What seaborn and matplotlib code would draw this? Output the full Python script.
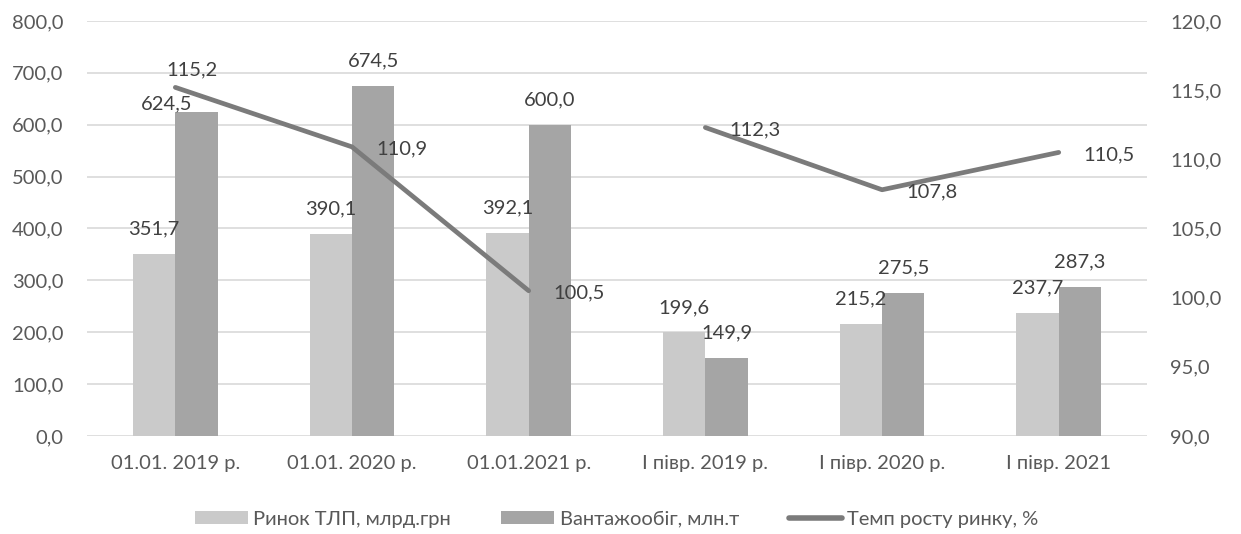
import matplotlib
matplotlib.use("Agg")
import matplotlib.pyplot as plt
import seaborn as sns
import pandas as pd
import numpy as np
from matplotlib.patches import Patch
from matplotlib.lines import Line2D

# ---- data ----
categories = ["01.01. 2019 р.", "01.01. 2020 р.", "01.01.2021 р.",
              "І півр. 2019 р.", "І півр. 2020 р.", "І півр. 2021"]
market = [351.7, 390.1, 392.1, 199.6, 215.2, 237.7]
cargo = [624.5, 674.5, 600.0, 149.9, 275.5, 287.3]
growth = [115.2, 110.9, 100.5, 112.3, 107.8, 110.5]
period = ["year", "year", "year", "half", "half", "half"]
series_names = ["Ринок ТЛП, млрд.грн", "Вантажообіг, млн.т", "Темп росту ринку, %"]
left_ticks = list(range(0, 801, 100))
right_ticks = list(range(90, 121, 5))

# ---- style ----
sns.set_theme(style="white")
FONT = ["Lato", "DejaVu Sans"]
plt.rcParams["font.family"] = FONT
FS = 14.5
TICK_C = "#595959"
LBL_C = "#404040"
LIGHT = "#cacaca"
DARK = "#a5a5a5"
LINE_C = "#7b7b7b"

def fmt(v):
    return f"{v:.1f}".replace(".", ",")

fig = plt.figure(figsize=(12.41, 5.34), dpi=100)
ax = fig.add_axes([0.0701, 0.1835, 0.8542, 0.7772])

df = pd.DataFrame({
    "category": categories * 2,
    "series": [series_names[0]] * len(categories) + [series_names[1]] * len(categories),
    "value": market + cargo,
})
sns.barplot(data=df, x="category", y="value", hue="series", order=categories,
            hue_order=series_names[:2], palette=[LIGHT, DARK], width=0.48, gap=0,
            saturation=1, legend=False, ax=ax, linewidth=0, edgecolor="none")

ax.set_xlim(-0.5, len(categories) - 0.5)
ax.set_ylim(0, 800)
ax.set_yticks(left_ticks)
ax.set_yticklabels([fmt(v) for v in left_ticks])
ax.set_xlabel("")
ax.set_ylabel("")
ax.grid(axis="y", color="#d9d9d9", lw=1.2)
ax.grid(axis="x", visible=False)
ax.set_axisbelow(True)
for s in ax.spines.values():
    s.set_visible(False)
ax.tick_params(axis="y", length=0, pad=17, labelsize=FS, labelcolor=TICK_C)
ax.tick_params(axis="x", length=0, pad=14, labelsize=FS, labelcolor=TICK_C)

# bar labels
for ci, container in enumerate(ax.containers):
    vals = market if ci == 0 else cargo
    for i, (bar, v) in enumerate(zip(container, vals)):
        off = (0, 25)
        if ci == 1 and i == 0:
            off = (-30, 8)
        ax.annotate(fmt(v), (bar.get_x() + bar.get_width() / 2, bar.get_height()),
                    xytext=off, textcoords="offset pixels", ha="center", va="center",
                    fontsize=FS, color=LBL_C)

# line on secondary axis
ax2 = ax.twinx()
ldf = pd.DataFrame({"pos": np.arange(len(categories)), "growth": growth, "period": period})
sns.lineplot(data=ldf, x="pos", y="growth", units="period", estimator=None,
             color=LINE_C, lw=3.4, ax=ax2, legend=False, solid_capstyle="round",
             solid_joinstyle="round")
ax2.set_ylim(90, 120)
ax2.set_yticks(right_ticks)
ax2.set_yticklabels([fmt(v) for v in right_ticks])
ax2.set_ylabel("")
ax2.set_xlabel("")
ax2.grid(False)
for s in ax2.spines.values():
    s.set_visible(False)
ax2.tick_params(axis="y", length=0, pad=16.5, labelsize=FS, labelcolor=TICK_C)
ax.set_xlim(-0.5, len(categories) - 0.5)

for i, v in enumerate(growth):
    off = (50, -2)
    if i == 0:
        off = (17, 18)
    ax2.annotate(fmt(v), (i, v), xytext=off, textcoords="offset pixels",
                 ha="center", va="center", fontsize=FS, color=LBL_C)

handles = [Patch(facecolor=LIGHT, edgecolor="none"),
           Patch(facecolor=DARK, edgecolor="none"),
           Line2D([0], [0], color=LINE_C, lw=4)]
leg = fig.legend(handles, series_names, loc="center", bbox_to_anchor=(0.497, 0.028),
                 ncol=3, frameon=False, fontsize=FS, handlelength=2.64,
                 handletextpad=0.25, columnspacing=2.5, handleheight=0.6)
for t in leg.get_texts():
    t.set_color(TICK_C)

fig.savefig("out.png", dpi=100)
